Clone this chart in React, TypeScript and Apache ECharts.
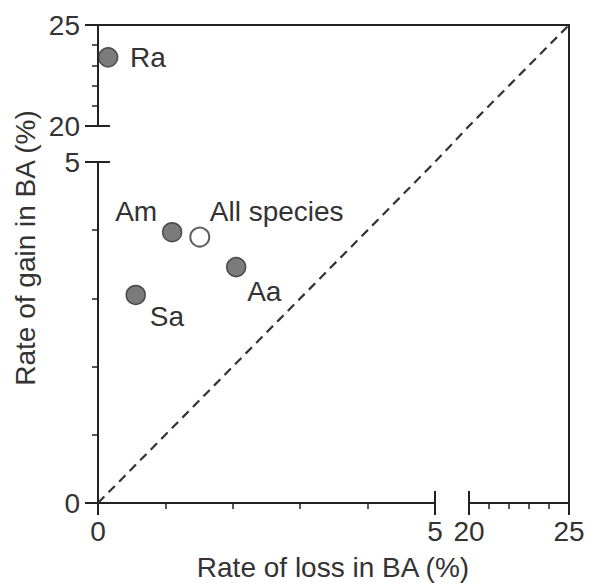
import React, { useEffect, useRef } from "react";
import * as echarts from "echarts";

// ---- data ----
const species = ["Ra", "Am", "All species", "Aa", "Sa"];
const lossRate = [0.15, 1.1, 1.51, 2.05, 0.56];
const gainRate = [23.4, 3.97, 3.9, 3.46, 3.05];
const isAllSpecies = [false, false, true, false, false];
const lowerRange = [0, 5];
const upperRange = [20, 25];
const oneToOne = [0, 5, 20, 25];
const xTitle = "Rate of loss in BA (%)";
const yTitle = "Rate of gain in BA (%)";

// ---- styling (label placement) ----
const labelPlacement: Record<string, { align: string; offset: number[] }> = {
  Ra: { align: "left", offset: [22, 0] },
  Am: { align: "right", offset: [-15, -21] },
  "All species": { align: "left", offset: [10, -26] },
  Aa: { align: "left", offset: [11, 24] },
  Sa: { align: "left", offset: [14, 22] },
};

const FONT = "'Liberation Sans', Arial, Helvetica, sans-serif";
const FS = 28;
const TEXT = "#333";
const LINE = "#222";

export default function App() {
  const ref = useRef<HTMLDivElement>(null);
  useEffect(() => {
    document.body.style.margin = "0";
    const chart = echarts.init(ref.current!, null, { renderer: "svg" });

    const axisLabel = { fontSize: FS, fontFamily: FONT, color: TEXT };
    const mainX = (gridIndex: number, range: number[]) => ({
      type: "value",
      gridIndex,
      min: range[0],
      max: range[1],
      interval: 5,
      position: "bottom",
      axisLine: { show: true, onZero: false, lineStyle: { color: LINE, width: 2 } },
      axisTick: { show: true, inside: false, length: 12, lineStyle: { color: LINE, width: 2 } },
      minorTick: { show: true, splitNumber: 5, length: 6, lineStyle: { color: LINE, width: 1.5 } },
      axisLabel: { ...axisLabel, margin: 14 },
      splitLine: { show: false },
    });
    const innerX = (gridIndex: number, range: number[]) => ({
      type: "value",
      gridIndex,
      min: range[0],
      max: range[1],
      interval: 5,
      position: "bottom",
      axisLine: { show: false, onZero: false },
      axisTick: { show: true, inside: true, length: 12, lineStyle: { color: LINE, width: 2 } },
      axisLabel: { show: false },
      splitLine: { show: false },
    });
    const mainY = (gridIndex: number, range: number[]) => ({
      type: "value",
      gridIndex,
      min: range[0],
      max: range[1],
      interval: 5,
      position: "left",
      axisLine: { show: true, onZero: false, lineStyle: { color: LINE, width: 2 } },
      axisTick: { show: true, inside: false, length: 13, lineStyle: { color: LINE, width: 2 } },
      minorTick: { show: true, splitNumber: 5, length: 6, lineStyle: { color: LINE, width: 1.5 } },
      axisLabel: { ...axisLabel, margin: 18 },
      splitLine: { show: false },
    });
    const innerY = (gridIndex: number, range: number[]) => ({
      type: "value",
      gridIndex,
      min: range[0],
      max: range[1],
      interval: 5,
      position: "left",
      axisLine: { show: false, onZero: false },
      axisTick: { show: true, inside: true, length: 12, lineStyle: { color: LINE, width: 2 } },
      axisLabel: { show: false },
      splitLine: { show: false },
    });
    const hidden = (gridIndex: number, range: number[]) => ({
      type: "value",
      gridIndex,
      min: range[0],
      max: range[1],
      show: false,
    });

    const makePoint = (i: number) => {
      const p = labelPlacement[species[i]];
      const open = isAllSpecies[i];
      return {
        name: species[i],
        value: [lossRate[i], gainRate[i]],
        itemStyle: open
          ? { color: "#fff", borderColor: "#333", borderWidth: 2 }
          : { color: "#5a5a5a", borderColor: "#2e2e2e", borderWidth: 1.5 },
        label: {
          show: true,
          formatter: species[i],
          position: "inside",
          align: p.align,
          verticalAlign: "middle",
          offset: p.offset,
          fontSize: FS,
          fontFamily: FONT,
          color: TEXT,
          textBorderWidth: 0,
          textBorderColor: "transparent",
          opacity: 1,
        },
      };
    };
    const lowerIdx = species.map((_, i) => i).filter((i) => gainRate[i] <= lowerRange[1]);
    const upperIdx = species.map((_, i) => i).filter((i) => gainRate[i] >= upperRange[0]);

    const option: any = {
      animation: false,
      backgroundColor: "#fff",
      grid: [
        { left: 98, top: 162, width: 337, height: 341, outerBoundsMode: "none" },
        { left: 98, top: 25, width: 337, height: 101, outerBoundsMode: "none" },
        { left: 469, top: 162, width: 100, height: 341, outerBoundsMode: "none" },
        { left: 469, top: 25, width: 100, height: 101, outerBoundsMode: "none" },
        { left: 98, top: 25, width: 471, height: 478, outerBoundsMode: "none" },
      ],
      xAxis: [
        mainX(0, lowerRange),
        innerX(0, lowerRange),
        hidden(1, lowerRange),
        mainX(2, upperRange),
        innerX(2, upperRange),
        hidden(3, upperRange),
        {
          type: "value",
          gridIndex: 4,
          min: 0,
          max: 1,
          position: "top",
          axisLine: { show: true, onZero: false, lineStyle: { color: LINE, width: 2 } },
          axisTick: { show: false },
          axisLabel: { show: false },
          splitLine: { show: false },
        },
      ],
      yAxis: [
        mainY(0, lowerRange),
        innerY(0, lowerRange),
        mainY(1, upperRange),
        innerY(1, upperRange),
        hidden(2, lowerRange),
        hidden(3, upperRange),
        {
          type: "value",
          gridIndex: 4,
          min: 0,
          max: 1,
          position: "right",
          axisLine: { show: true, onZero: false, lineStyle: { color: LINE, width: 2 } },
          axisTick: { show: false },
          axisLabel: { show: false },
          splitLine: { show: false },
        },
      ],
      series: [
        {
          type: "scatter",
          xAxisIndex: 0,
          yAxisIndex: 0,
          symbolSize: 19,
          z: 5,
          data: lowerIdx.map(makePoint),
        },
        {
          type: "scatter",
          xAxisIndex: 2,
          yAxisIndex: 2,
          symbolSize: 19,
          z: 5,
          data: upperIdx.map(makePoint),
        },
      ],
    };
    chart.setOption(option);

    const pts = oneToOne.map((v) =>
      chart.convertToPixel({ gridIndex: v <= lowerRange[1] ? 0 : 3 } as any, [v, v]) as number[]
    );

    chart.setOption({
      graphic: [
        {
          type: "text",
          x: 25,
          y: 248,
          rotation: Math.PI / 2,
          style: {
            text: yTitle,
            fontSize: FS,
            fontFamily: FONT,
            fill: TEXT,
            align: "center",
            verticalAlign: "middle",
          },
        },
        {
          type: "text",
          x: 333,
          y: 567,
          style: {
            text: xTitle,
            fontSize: FS,
            fontFamily: FONT,
            fill: TEXT,
            align: "center",
            verticalAlign: "middle",
          },
        },
        {
          type: "polyline",
          z: 1,
          shape: { points: pts },
          style: { stroke: "#333", lineWidth: 2.2, lineDash: [9, 6], fill: null },
        },
      ],
    });

    return () => chart.dispose();
  }, []);
  return <div ref={ref} style={{ width: 590, height: 583 }} />;
}
